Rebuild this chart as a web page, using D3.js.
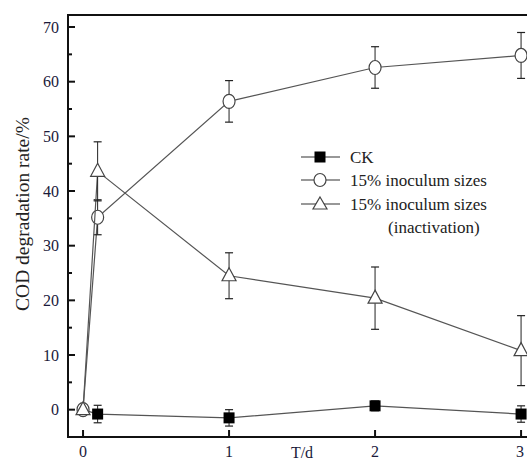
<!DOCTYPE html>
<html>
<head>
<meta charset="utf-8">
<script src="https://cdn.jsdelivr.net/npm/d3@7"></script>
<style>
  body { margin: 0; background: #fff; }
  text { font-family: "Liberation Serif", "DejaVu Serif", serif; }
</style>
</head>
<body>
<div id="chart"></div>
<script>
// days sampled
var days = [0, 0.1, 1, 2, 3];

// CK (control), first reading is hidden under the t=0 markers
var ckVals = [0, -0.8, -1.5, 0.7, -0.8];
var ckErr  = [0, 1.6, 1.5, 0.9, 1.5];

// 15% inoculum sizes
var inocVals = [0, 35.2, 56.4, 62.6, 64.8];
var inocErr  = [0, 3.2, 3.8, 3.8, 4.2];

// 15% inoculum sizes (inactivation)
var inactVals = [0, 43.6, 24.5, 20.4, 10.8];
var inactErr  = [0, 5.4, 4.2, 5.7, 6.4];

var xTicks = [0, 1, 2, 3];
var yTicks = [0, 10, 20, 30, 40, 50, 60, 70];
var yMinor = [5, 15, 25, 35, 45, 55, 65];

var W = 527, H = 462;
var plotL = 68, plotT = 15, plotR = 531, plotB = 437;

var svg = d3.select("#chart").append("svg")
  .attr("width", W).attr("height", H);

var x = d3.scaleLinear().domain([-0.103, 3.068]).range([plotL, plotR]);
var y = d3.scaleLinear().domain([-5, 72.2]).range([plotB, plotT]);

// frame
svg.append("rect")
  .attr("x", plotL).attr("y", plotT)
  .attr("width", plotR - plotL).attr("height", plotB - plotT)
  .attr("fill", "none").attr("stroke", "#111").attr("stroke-width", 2);

// y ticks, inward
svg.selectAll(".ytick").data(yTicks).enter().append("line")
  .attr("x1", plotL).attr("x2", plotL + 7)
  .attr("y1", function(d) { return y(d); }).attr("y2", function(d) { return y(d); })
  .attr("stroke", "#111").attr("stroke-width", 2);
svg.selectAll(".yminor").data(yMinor).enter().append("line")
  .attr("x1", plotL).attr("x2", plotL + 4)
  .attr("y1", function(d) { return y(d); }).attr("y2", function(d) { return y(d); })
  .attr("stroke", "#111").attr("stroke-width", 2);
svg.selectAll(".ylab").data(yTicks).enter().append("text")
  .attr("x", plotL - 9).attr("y", function(d) { return y(d); })
  .attr("dy", "0.35em").attr("text-anchor", "end")
  .style("font-size", "16px").style("fill", "#1a1a3a")
  .text(function(d) { return d; });

// x ticks
svg.selectAll(".xtick").data(xTicks).enter().append("line")
  .attr("x1", function(d) { return x(d); }).attr("x2", function(d) { return x(d); })
  .attr("y1", plotB).attr("y2", plotB - 7)
  .attr("stroke", "#111").attr("stroke-width", 2);
svg.selectAll(".xlab").data(xTicks).enter().append("text")
  .attr("x", function(d) { return Math.min(x(d), 520); }).attr("y", 451)
  .attr("dy", "0.35em").attr("text-anchor", "middle")
  .style("font-size", "16px").style("fill", "#1a1a3a")
  .text(function(d) { return d; });
svg.append("text").attr("x", 302).attr("y", 452).attr("dy", "0.35em")
  .attr("text-anchor", "middle").style("font-size", "16px").style("fill", "#1a1a3a")
  .text("T/d");

// y title
svg.append("text")
  .attr("transform", "translate(22," + 214 + ") rotate(-90)")
  .attr("text-anchor", "middle").attr("dy", "0.35em")
  .style("font-size", "19.5px").style("fill", "#222")
  .text("COD degradation rate/%");

var line = d3.line().x(function(d) { return x(d[0]); }).y(function(d) { return y(d[1]); });

function series(xs, vals, errs, shape, hideFirst) {
  var pts = xs.map(function(d, i) { return [d, vals[i], errs[i]]; });
  var g = svg.append("g");
  g.append("path").datum(pts).attr("d", line)
    .attr("fill", "none").attr("stroke", "#555").attr("stroke-width", 1.2);
  // error bars
  pts.filter(function(p) { return p[2] > 0; }).forEach(function(p) {
    var cx = x(p[0]);
    g.append("line").attr("x1", cx).attr("x2", cx)
      .attr("y1", y(p[1] + p[2])).attr("y2", y(p[1] - p[2]))
      .attr("stroke", "#222").attr("stroke-width", 1);
    [p[1] + p[2], p[1] - p[2]].forEach(function(v) {
      g.append("line").attr("x1", cx - 4).attr("x2", cx + 4)
        .attr("y1", y(v)).attr("y2", y(v))
        .attr("stroke", "#222").attr("stroke-width", 1.2);
    });
  });
  pts.forEach(function(p, i) {
    if (hideFirst && i === 0) return;
    var cx = x(p[0]), cy = y(p[1]);
    if (shape === "square") {
      g.append("rect").attr("x", cx - 5.5).attr("y", cy - 5.5)
        .attr("width", 11).attr("height", 11).attr("fill", "#000");
    } else if (shape === "circle") {
      g.append("ellipse").attr("cx", cx).attr("cy", cy).attr("rx", 6).attr("ry", 7)
        .attr("fill", "#fff").attr("stroke", "#444").attr("stroke-width", 1.2);
    } else {
      g.append("path")
        .attr("d", "M" + cx + "," + (cy - 8) + "L" + (cx + 7) + "," + (cy + 5) + "L" + (cx - 7) + "," + (cy + 5) + "Z")
        .attr("fill", "#fff").attr("stroke", "#444").attr("stroke-width", 1.2);
    }
  });
}

series(days, ckVals, ckErr, "square", true);
series(days, inocVals, inocErr, "circle");
series(days, inactVals, inactErr, "triangle");

// legend
var legend = [
  { label: "CK", shape: "square", y: 157 },
  { label: "15% inoculum sizes", shape: "circle", y: 180 },
  { label: "15% inoculum sizes", shape: "triangle", y: 204 }
];
legend.forEach(function(l) {
  svg.append("line").attr("x1", 301).attr("x2", 340).attr("y1", l.y).attr("y2", l.y)
    .attr("stroke", "#333").attr("stroke-width", 1.2);
  var cx = 320, cy = l.y;
  if (l.shape === "square") {
    svg.append("rect").attr("x", cx - 5.5).attr("y", cy - 5.5).attr("width", 11).attr("height", 11).attr("fill", "#000");
  } else if (l.shape === "circle") {
    svg.append("ellipse").attr("cx", cx).attr("cy", cy).attr("rx", 6).attr("ry", 6.5)
      .attr("fill", "#fff").attr("stroke", "#444").attr("stroke-width", 1.2);
  } else {
    svg.append("path")
      .attr("d", "M" + cx + "," + (cy - 7) + "L" + (cx + 7) + "," + (cy + 5) + "L" + (cx - 7) + "," + (cy + 5) + "Z")
      .attr("fill", "#fff").attr("stroke", "#444").attr("stroke-width", 1.2);
  }
  svg.append("text").attr("x", 350).attr("y", l.y).attr("dy", "0.35em")
    .style("font-size", "17px").style("fill", "#222").text(l.label);
});
svg.append("text").attr("x", 388).attr("y", 227).attr("dy", "0.35em")
  .style("font-size", "17px").style("fill", "#222").text("(inactivation)");
</script>
</body>
</html>
